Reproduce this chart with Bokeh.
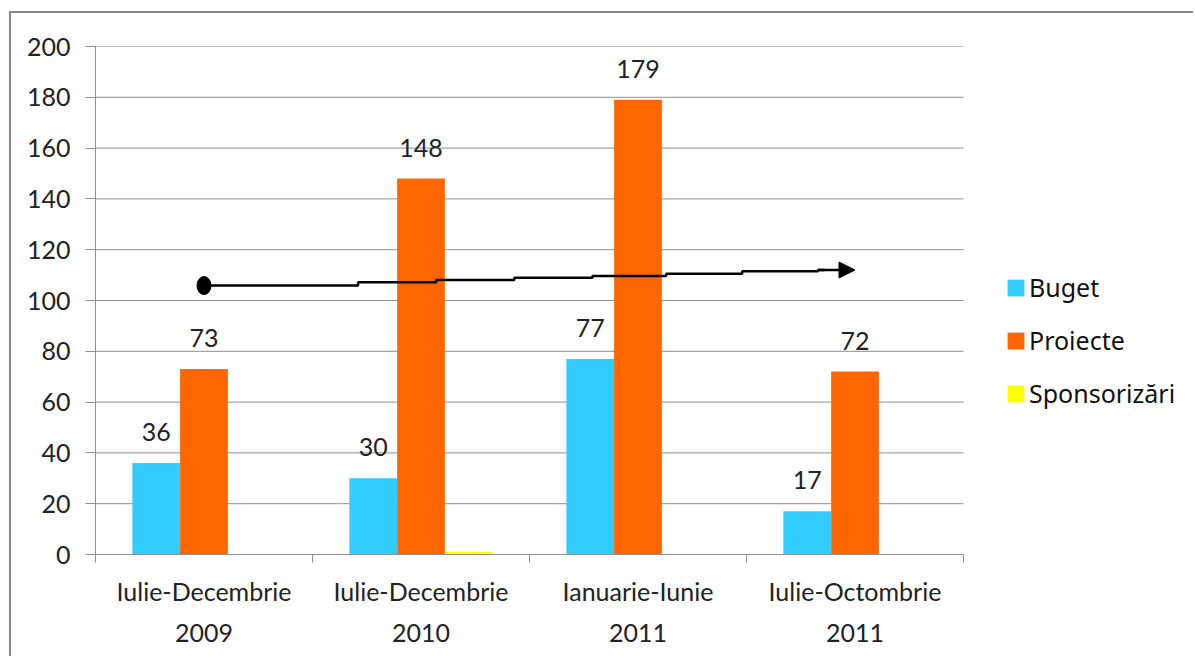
from bokeh.plotting import figure
from bokeh.models import Range1d, FixedTicker, Legend, LegendItem, Arrow, NormalHead, ColumnDataSource
from bokeh.core.properties import value
from bokeh.embed import file_html
from bokeh.resources import INLINE

# Periods on the x axis (two-line labels)
periods = ["Iulie-Decembrie\n2009", "Iulie-Decembrie\n2010", "Ianuarie-Iunie\n2011", "Iulie-Octombrie\n2011"]

# Series values per period
buget = [36, 30, 77, 17]
proiecte = [73, 148, 179, 72]
sponsorizari = [0, 1, 0, 0]

series_names = ["Buget", "Proiecte", "Sponsorizări"]
series_colors = ["#33CCFF", "#FF6600", "#FFFF00"]

y_ticks = list(range(0, 201, 20))

# Hand-drawn rising trend arrow: step break points (period units) and levels
trend_x = [0.5, 1.21, 1.57, 1.93, 2.29, 2.63, 2.98, 3.33, 3.36]
trend_y = [105.9, 107.2, 108.1, 109.0, 109.6, 110.5, 111.5, 112.0, 112.0]
arrow_tip_x = 3.5

FONT = "Lato"
TEXT_COLOR = "#222222"
GRID_COLOR = "#8e8e8e"

n_periods = len(periods)
centers = [i + 0.5 for i in range(n_periods)]
bar_w = 0.22
offsets = [-bar_w, 0.0, bar_w]

# Canvas layout: the frame runs to the right edge so the legend can sit beside the bars
PLOT_W, PLOT_H = 1184, 645
LEFT, TOP, BOTTOM = 84, 33, 104
CHART_W = 868  # pixels covered by the four periods
frame_w = PLOT_W - LEFT
x_end = n_periods * frame_w / CHART_W

p = figure(width=PLOT_W, height=PLOT_H, x_range=Range1d(0, x_end), y_range=Range1d(0, 200),
           output_backend="svg", toolbar_location=None,
           min_border_left=LEFT, min_border_right=0, min_border_top=TOP, min_border_bottom=BOTTOM,
           margin=(11, 0, 0, 9))
p.styles = {"border-left": "2px solid #888888", "border-top": "2px solid #888888"}
p.outline_line_color = None
p.background_fill_color = "white"
p.border_fill_color = "white"

# Horizontal gridlines across the periods only
p.segment(x0=[0] * len(y_ticks), x1=[n_periods] * len(y_ticks), y0=y_ticks, y1=y_ticks,
          line_color=GRID_COLOR, line_width=1)

# Bars
renderers = []
for vals, name, color, off in zip([buget, proiecte, sponsorizari], series_names, series_colors, offsets):
    src = ColumnDataSource(dict(x=[c + off for c in centers], top=vals))
    r = p.vbar(x="x", top="top", width=bar_w, bottom=0, source=src,
               fill_color=color, line_color=None)
    renderers.append(r)

# Value labels above Buget and Proiecte bars
for vals, off in zip([buget, proiecte], offsets[:2]):
    p.text(x=[c + off for c in centers], y=vals, text=[str(v) for v in vals],
           text_font=value(FONT), text_font_size="25px", text_color=TEXT_COLOR,
           text_align="center", text_baseline="middle", y_offset=-31)

# Trend arrow
p.step(x=trend_x, y=trend_y, mode="after", line_color="black", line_width=2.5)
p.ellipse(x=[trend_x[0]], y=[trend_y[0]], width=14, height=18,
          width_units="screen", height_units="screen", fill_color="black", line_color="black")
p.add_layout(Arrow(end=NormalHead(size=16, fill_color="black", line_color="black"),
                   x_start=trend_x[-2], y_start=trend_y[-1], x_end=arrow_tip_x, y_end=trend_y[-1],
                   line_color="black", line_width=2.5))

# Y axis
p.yaxis.ticker = FixedTicker(ticks=y_ticks)
p.yaxis.axis_line_color = GRID_COLOR
p.yaxis.major_tick_line_color = GRID_COLOR
p.yaxis.major_tick_out = 10
p.yaxis.major_tick_in = 0
p.yaxis.minor_tick_line_color = None
p.yaxis.major_label_standoff = 15
p.yaxis.major_label_text_font = FONT
p.yaxis.major_label_text_font_size = "25px"
p.yaxis.major_label_text_color = TEXT_COLOR

# X axis: labels centred on periods, tick marks on period boundaries
p.xaxis.bounds = (0, n_periods)
p.xaxis.ticker = FixedTicker(ticks=centers, minor_ticks=list(range(n_periods + 1)))
p.xaxis.major_label_overrides = {c: lab for c, lab in zip(centers, periods)}
p.xaxis.axis_line_color = GRID_COLOR
p.xaxis.major_tick_line_color = None
p.xaxis.major_tick_out = 0
p.xaxis.major_tick_in = 0
p.xaxis.minor_tick_line_color = GRID_COLOR
p.xaxis.minor_tick_out = 8
p.xaxis.minor_tick_in = 0
p.xaxis.major_label_standoff = 13
p.xaxis.major_label_text_font = FONT
p.xaxis.major_label_text_font_size = "25px"
p.xaxis.major_label_text_color = TEXT_COLOR
p.xaxis.major_label_text_line_height = 1.37

p.xgrid.grid_line_color = None
p.ygrid.grid_line_color = None

legend = Legend(items=[LegendItem(label=n, renderers=[r]) for n, r in zip(series_names, renderers)],
                location=(910, 144), orientation="vertical",
                glyph_width=21, glyph_height=21, label_standoff=3, spacing=19,
                padding=0, margin=0, border_line_color=None, background_fill_alpha=0,
                label_text_font="Noto Sans", label_text_font_size="25px", label_text_color="#111111")
p.add_layout(legend, "center")

open("out.html", "w").write(file_html(p, INLINE))
